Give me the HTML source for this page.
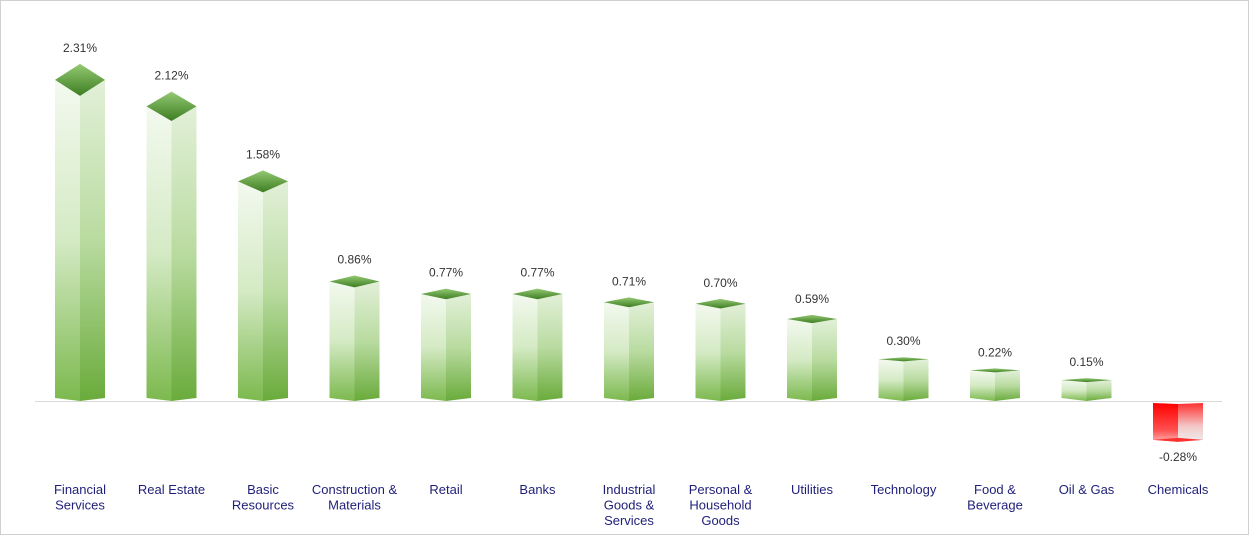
<!DOCTYPE html>
<html><head><meta charset="utf-8"><style>
html,body{margin:0;padding:0;background:#fff}
svg{display:block}
</style></head><body>
<svg id="s" width="1249" height="535" xmlns="http://www.w3.org/2000/svg" font-family="Liberation Sans, Arial, sans-serif">
<defs>
<linearGradient id="gl" x1="0" y1="0" x2="0" y2="1"><stop offset="0" stop-color="#f3f9ef"/><stop offset="0.5" stop-color="#d4eac4"/><stop offset="1" stop-color="#7cb94e"/></linearGradient>
<linearGradient id="gr" x1="0" y1="0" x2="0" y2="1"><stop offset="0" stop-color="#e2f0d8"/><stop offset="0.5" stop-color="#b9dba0"/><stop offset="1" stop-color="#6aab3b"/></linearGradient>
<linearGradient id="gt" x1="0" y1="0" x2="0" y2="1"><stop offset="0" stop-color="#93c972"/><stop offset="1" stop-color="#3d7d22"/></linearGradient>
<linearGradient id="rl" x1="0" y1="0" x2="0" y2="1"><stop offset="0" stop-color="#ff0000"/><stop offset="0.7" stop-color="#ff5050"/><stop offset="1" stop-color="#ffb0b0"/></linearGradient>
<linearGradient id="rr" x1="0" y1="0" x2="0" y2="1"><stop offset="0" stop-color="#ff3030"/><stop offset="0.6" stop-color="#f4c8c8"/><stop offset="1" stop-color="#eeeeee"/></linearGradient>
</defs>
<rect x="0.5" y="0.5" width="1248" height="534" fill="#fff" stroke="#d0d0d0"/>
<line x1="35" y1="401.5" x2="1222" y2="401.5" stroke="#d9d9d9" stroke-width="1"/>
<g id="bars"></g>
</svg>
<script>
var d=[["Financial|Services",2.31],["Real Estate",2.12],["Basic|Resources",1.58],["Construction &|Materials",0.86],["Retail",0.77],["Banks",0.77],["Industrial|Goods &|Services",0.71],["Personal &|Household|Goods",0.70],["Utilities",0.59],["Technology",0.30],["Food &|Beverage",0.22],["Oil & Gas",0.15],["Chemicals",-0.28]];
var g=document.getElementById("bars"),h="";
for(var i=0;i<d.length;i++){
 var c=80+i*91.5,v=d[i][1],Z=401,w=25;
 if(v>0){
  var L=Z-139*v,hh=Math.max(2,16*v/2.31);
  h+='<polygon points="'+(c-w)+','+L+' '+c+','+(L+hh)+' '+c+','+(Z)+' '+(c-w)+','+(Z-3)+'" fill="url(#gl)"/>';
  h+='<polygon points="'+c+','+(L+hh)+' '+(c+w)+','+L+' '+(c+w)+','+(Z-3)+' '+c+','+Z+'" fill="url(#gr)"/>';
  h+='<polygon points="'+(c-w)+','+L+' '+c+','+(L-hh)+' '+(c+w)+','+L+' '+c+','+(L+hh)+'" fill="url(#gt)"/>';
  h+='<text x="'+c+'" y="'+(L-hh-12)+'" font-size="12" fill="#333" text-anchor="middle">'+v.toFixed(2)+'%</text>';
 }else{
  var B=Z-139*v;
  h+='<polygon points="'+(c-w)+','+(Z+2)+' '+c+','+(Z+3)+' '+c+','+(B+2)+' '+(c-w)+','+B+'" fill="url(#rl)"/>';
  h+='<polygon points="'+c+','+(Z+3)+' '+(c+w)+','+(Z+2)+' '+(c+w)+','+B+' '+c+','+(B+2)+'" fill="url(#rr)"/>';
  h+='<polygon points="'+(c-w)+','+B+' '+c+','+(B-2)+' '+(c+w)+','+B+' '+c+','+(B+2)+'" fill="#ff3030"/>';
  h+='<text x="'+c+'" y="'+(B+21)+'" font-size="12" fill="#333" text-anchor="middle">'+v.toFixed(2)+'%</text>';
 }
 var ls=d[i][0].split("|");
 for(var j=0;j<ls.length;j++){
  h+='<text x="'+c+'" y="'+(494+j*15.5)+'" font-size="13" fill="#1f1f7a" text-anchor="middle">'+ls[j].replace("&","&amp;")+'</text>';
 }
}
g.innerHTML=h;
</script>
</body></html>
